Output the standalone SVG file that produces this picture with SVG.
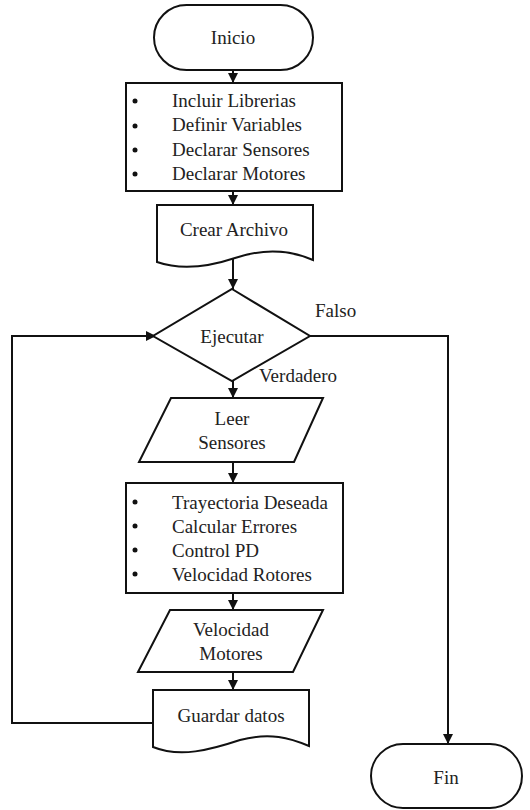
<svg xmlns="http://www.w3.org/2000/svg" width="530" height="810" viewBox="0 0 530 810">
<style>
.s{fill:#fff;stroke:#111;stroke-width:2}
.c{fill:none;stroke:#111;stroke-width:2}
text{font-family:"Liberation Serif","Times New Roman",serif;font-size:19px;fill:#222}
.m{text-anchor:middle}
</style>
<defs>
<marker id="a" viewBox="0 0 10 10" refX="10" refY="5" markerWidth="5" markerHeight="5" orient="auto" markerUnits="strokeWidth">
<path d="M0,0 L10,5 L0,10 z" fill="#111"/>
</marker>
</defs>
<rect width="530" height="810" fill="#fff"/>
<g id="connectors">
<line class="c" x1="233" y1="70" x2="233" y2="83" marker-end="url(#a)"/>
<line class="c" x1="233" y1="191" x2="233" y2="205" marker-end="url(#a)"/>
<line class="c" x1="233" y1="258" x2="233" y2="289" marker-end="url(#a)"/>
<line class="c" x1="233" y1="381" x2="233" y2="398" marker-end="url(#a)"/>
<line class="c" x1="233" y1="462" x2="233" y2="483" marker-end="url(#a)"/>
<line class="c" x1="233" y1="593" x2="233" y2="610" marker-end="url(#a)"/>
<line class="c" x1="233" y1="672" x2="233" y2="690" marker-end="url(#a)"/>
<polyline class="c" points="310,336 448,336 448,744" marker-end="url(#a)"/>
<polyline class="c" points="153,723 12,723 12,336 156,336" marker-end="url(#a)"/>
<text x="315" y="317">Falso</text>
<text x="259" y="382">Verdadero</text>
</g>
<g id="inicio">
<rect class="s" x="154" y="5" width="159" height="65" rx="32.5"/>
<text class="m" x="233" y="44">Inicio</text>
</g>
<g id="declaraciones">
<rect class="s" x="126" y="83" width="216" height="108"/>
<g fill="#111"><circle cx="135" cy="101" r="2.5"/><circle cx="135" cy="126" r="2.5"/><circle cx="135" cy="150" r="2.5"/><circle cx="135" cy="174" r="2.5"/></g>
<text x="172" y="107">Incluir Librerias</text>
<text x="172" y="131">Definir Variables</text>
<text x="172" y="156">Declarar Sensores</text>
<text x="172" y="180">Declarar Motores</text>
</g>
<g id="crear-archivo">
<path class="s" d="M157,205 H313 V260 C290,250 265,248 235,258 C205,268 180,270 157,262 Z"/>
<text class="m" x="234" y="236">Crear Archivo</text>
</g>
<g id="ejecutar">
<polygon class="s" points="232,289 310,336 232,381 153,336"/>
<text class="m" x="232" y="343">Ejecutar</text>
</g>
<g id="leer-sensores">
<polygon class="s" points="171,398 323,398 294,462 139,462"/>
<text class="m" x="232" y="425">Leer</text>
<text class="m" x="232" y="449">Sensores</text>
</g>
<g id="proceso">
<rect class="s" x="126" y="483" width="217" height="110"/>
<g fill="#111"><circle cx="135" cy="502" r="2.5"/><circle cx="135" cy="526" r="2.5"/><circle cx="135" cy="550" r="2.5"/><circle cx="135" cy="574" r="2.5"/></g>
<text x="172" y="509">Trayectoria Deseada</text>
<text x="172" y="533">Calcular Errores</text>
<text x="172" y="557">Control PD</text>
<text x="172" y="581">Velocidad Rotores</text>
</g>
<g id="velocidad-motores">
<polygon class="s" points="170,610 323,610 293,672 138,672"/>
<text class="m" x="231" y="636">Velocidad</text>
<text class="m" x="231" y="660">Motores</text>
</g>
<g id="guardar-datos">
<path class="s" d="M153,690 H309 V746 C290,738 270,732 240,740 C210,750 180,758 153,747 Z"/>
<text class="m" x="231" y="722">Guardar datos</text>
</g>
<g id="fin">
<rect class="s" x="371" y="744" width="151" height="64" rx="32"/>
<text class="m" x="446" y="784">Fin</text>
</g>
</svg>
